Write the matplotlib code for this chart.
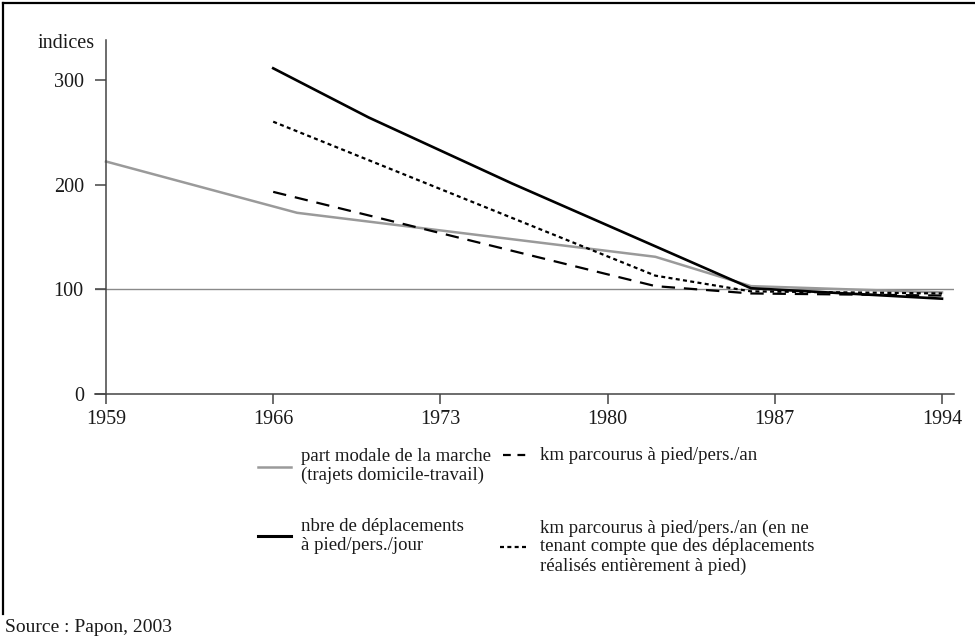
import matplotlib
matplotlib.use("Agg")
import matplotlib.pyplot as plt
from matplotlib.lines import Line2D

plt.rcParams["font.family"] = ["Liberation Serif", "DejaVu Serif"]

# Données (indices)
annees_part = [1959, 1967, 1982, 1986, 1994]
part_modale = [222, 173, 131, 103, 97]

annees_depl = [1966, 1970, 1976, 1982, 1986, 1994]
nbre_depl = [311, 264, 201, 141, 101, 91]

annees_km = [1966, 1982, 1986, 1994]
km_an = [193, 103, 96, 94]
km_pied = [260, 113, 98, 96]

xticks = [1959, 1966, 1973, 1980, 1987, 1994]
yticks = [0, 100, 200, 300]

W, H = 975, 639
fig = plt.figure(figsize=(W / 100, H / 100), dpi=100)


def fx(px):
    return px / W


def fy(py):
    return 1 - py / H


ax = fig.add_axes([fx(95), fy(394), fx(954) - fx(95), fy(40) - fy(394)])

ax.axhline(100, color="#8a8a8a", lw=1.0, zorder=1)

ax.plot(annees_part, part_modale, color="#9a9a9a", lw=1.8, zorder=2)
ax.plot(annees_depl, nbre_depl, color="black", lw=1.9, zorder=3)
ax.plot(annees_km, km_an, color="black", lw=1.6, ls=(0, (6, 4)), zorder=3)
ax.plot(annees_km, km_pied, color="black", lw=1.6, ls=(0, (1.8, 1.5)), zorder=3)

ax.set_xlim(1959 - 11 / 23.89, 1994 + 12 / 23.89)
ax.set_ylim(0, 338)

for s in ["top", "right"]:
    ax.spines[s].set_visible(False)
ax.spines["left"].set_position(("data", 1959))
for s in ["left", "bottom"]:
    ax.spines[s].set_color("#444444")
    ax.spines[s].set_linewidth(1.1)

ax.set_xticks(xticks)
ax.set_yticks(yticks)
ax.tick_params(axis="x", direction="out", length=7.5, width=1.1, color="#444444",
               pad=4, labelsize=14.5, labelcolor="#1a1a1a")
ax.tick_params(axis="y", direction="out", length=8, width=1.1, color="#444444",
               pad=8, labelsize=14.5, labelcolor="#1a1a1a")

fig.text(fx(95), fy(43), "indices", ha="right", va="center", fontsize=14.5, color="#1a1a1a")

# Légende dessinée à la main
fs = 13.5
fig.add_artist(Line2D([fx(258), fx(291)], [fy(467), fy(467)], color="#9a9a9a", lw=1.8))
fig.text(fx(301), fy(466), "part modale de la marche\n(trajets domicile-travail)",
         ha="left", va="center", fontsize=fs, linespacing=1.15, color="#1a1a1a")
fig.add_artist(Line2D([fx(258), fx(291)], [fy(536), fy(536)], color="black", lw=2.2))
fig.text(fx(301), fy(536), "nbre de déplacements\nà pied/pers./jour",
         ha="left", va="center", fontsize=fs, linespacing=1.15, color="#1a1a1a")
fig.add_artist(Line2D([fx(503), fx(529)], [fy(455), fy(455)], color="black", lw=1.6,
                      ls=(0, (3.5, 3.0))))
fig.text(fx(540), fy(455), "km parcourus à pied/pers./an",
         ha="left", va="center", fontsize=fs, color="#1a1a1a")
fig.add_artist(Line2D([fx(500), fx(529)], [fy(547), fy(547)], color="black", lw=1.6,
                      ls=(0, (1.8, 1.5))))
fig.text(fx(540), fy(547),
         "km parcourus à pied/pers./an (en ne\ntenant compte que des déplacements\nréalisés entièrement à pied)",
         ha="left", va="center", fontsize=fs, linespacing=1.15, color="#1a1a1a")

fig.text(fx(5), fy(627), "Source : Papon, 2003", ha="left", va="center", fontsize=14,
         color="#1a1a1a")

# Cadre
fig.add_artist(Line2D([fx(3), fx(975)], [fy(3), fy(3)], color="black", lw=1.6))
fig.add_artist(Line2D([fx(3), fx(3)], [fy(3), fy(614)], color="black", lw=1.6))

fig.savefig("out.png", dpi=100)
